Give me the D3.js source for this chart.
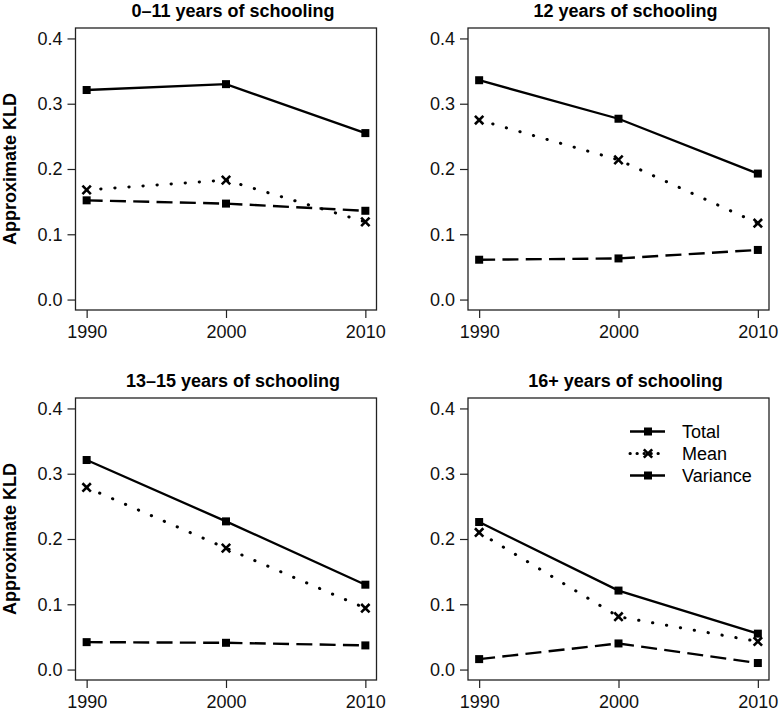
<!DOCTYPE html>
<html>
<head>
<meta charset="utf-8">
<script src="https://cdn.jsdelivr.net/npm/d3@7"></script>
<style>
  html, body { margin: 0; padding: 0; background: #fff; }
  svg { display: block; font-family: "Liberation Sans", Arial, Helvetica, sans-serif; }
</style>
</head>
<body>
<svg id="chart" width="781" height="712"></svg>
<script>
// ---- data ----
const years = [1990, 2000, 2010];
const yTicks = [0.0, 0.1, 0.2, 0.3, 0.4];
const titles = ["0\u201311 years of schooling", "12 years of schooling", "13\u201315 years of schooling", "16+ years of schooling"];
const totalValues = [
  [0.321, 0.330, 0.255],
  [0.336, 0.277, 0.193],
  [0.321, 0.227, 0.130],
  [0.226, 0.121, 0.055]
];
const meanValues = [
  [0.168, 0.183, 0.119],
  [0.275, 0.214, 0.117],
  [0.279, 0.186, 0.094],
  [0.210, 0.081, 0.043]
];
const varianceValues = [
  [0.152, 0.147, 0.136],
  [0.061, 0.063, 0.076],
  [0.042, 0.041, 0.037],
  [0.016, 0.040, 0.010]
];
const legendLabels = ["Total", "Mean", "Variance"];
const yLabel = "Approximate KLD";

// ---- layout ----
const svg = d3.select("#chart");
const W = 301, H = 282;
const panelPos = [
  {L: 75.5, T: 28}, {L: 468, T: 28},
  {L: 75.5, T: 398}, {L: 468, T: 398}
];

const styles = {
  total: {dash: null, cap: "butt", width: 2.3},
  mean: {dash: "0.3,13.8", cap: "round", width: 3},
  variance: {dash: "16,7.3", cap: "butt", width: 2.4}
};

function drawSquare(g, cx, cy, s) {
  g.append("rect").attr("x", cx - s / 2).attr("y", cy - s / 2)
    .attr("width", s).attr("height", s).attr("fill", "#000");
}
function drawX(g, cx, cy, r) {
  g.append("path")
    .attr("d", `M${cx - r},${cy - r}L${cx + r},${cy + r}M${cx - r},${cy + r}L${cx + r},${cy - r}`)
    .attr("stroke", "#000").attr("stroke-width", 2.6).attr("fill", "none");
}

panelPos.forEach((p, i) => {
  const x = d3.scaleLinear().domain([1989.2, 2010.8]).range([p.L, p.L + W]);
  const y = d3.scaleLinear().domain([-0.016, 0.416]).range([p.T + H, p.T]);
  const g = svg.append("g");

  // axes
  const ya = g.append("g").attr("transform", `translate(${p.L},0)`)
    .call(d3.axisLeft(y).tickValues(yTicks).tickFormat(d3.format(".1f")).tickSize(8).tickPadding(5));
  const xa = g.append("g").attr("transform", `translate(0,${p.T + H})`)
    .call(d3.axisBottom(x).tickValues(years).tickFormat(d3.format("d")).tickSize(8).tickPadding(7.2));
  [ya, xa].forEach(a => {
    a.select(".domain").remove();
    a.selectAll("line").attr("stroke", "#222").attr("stroke-width", 1.2);
    a.selectAll("text").attr("font-size", 18).attr("fill", "#111")
      .attr("font-family", "'Liberation Sans', Arial, sans-serif");
  });

  // box
  g.append("rect").attr("x", p.L).attr("y", p.T).attr("width", W).attr("height", H)
    .attr("fill", "none").attr("stroke", "#222").attr("stroke-width", 1.3);

  // title
  g.append("text").attr("x", p.L + W / 2 + 7).attr("y", p.T - 11)
    .attr("text-anchor", "middle").attr("font-size", 18).attr("font-weight", "bold")
    .text(titles[i]);

  // y label (left column only)
  if (i % 2 === 0) {
    g.append("text")
      .attr("transform", `translate(16,${p.T + H / 2}) rotate(-90)`)
      .attr("text-anchor", "middle").attr("font-size", 18).attr("font-weight", "bold")
      .text(yLabel);
  }

  const line = d3.line().x((d, k) => x(years[k])).y(d => y(d));
  const series = [
    {vals: totalValues[i], st: styles.total, mk: "sq"},
    {vals: meanValues[i], st: styles.mean, mk: "x"},
    {vals: varianceValues[i], st: styles.variance, mk: "sq"}
  ];
  series.forEach(s => {
    g.append("path").attr("d", line(s.vals)).attr("fill", "none")
      .attr("stroke", "#000").attr("stroke-width", s.st.width)
      .attr("stroke-linecap", s.st.cap)
      .attr("stroke-dasharray", s.st.dash);
  });
  series.forEach(s => {
    s.vals.forEach((v, k) => {
      if (s.mk === "sq") drawSquare(g, x(years[k]), y(v), 8);
      else drawX(g, x(years[k]), y(v), 4.2);
    });
  });

  // legend in last panel
  if (i === 3) {
    const lx0 = p.L + 162, lx1 = p.L + 197, lmx = p.L + 180, ltx = p.L + 214;
    const lys = [p.T + 33.5, p.T + 55.5, p.T + 77.5];
    const lst = [styles.total, {dash: "0.3,6.7", cap: "round", width: 3}, {dash: "16,3", cap: "butt", width: 2.4}];
    legendLabels.forEach((lab, k) => {
      const ly = lys[k];
      g.append("path").attr("d", `M${lx0},${ly}L${k === 1 ? lx1 - 4 : lx1},${ly}`)
        .attr("stroke", "#000").attr("stroke-width", lst[k].width)
        .attr("stroke-linecap", lst[k].cap).attr("stroke-dasharray", lst[k].dash).attr("fill", "none");
      if (k === 1) drawX(g, lmx, ly, 4.2); else drawSquare(g, lmx, ly, 8);
      g.append("text").attr("x", ltx).attr("y", ly).attr("dy", "0.35em")
        .attr("font-size", 18).text(lab);
    });
  }
});
</script>
</body>
</html>
